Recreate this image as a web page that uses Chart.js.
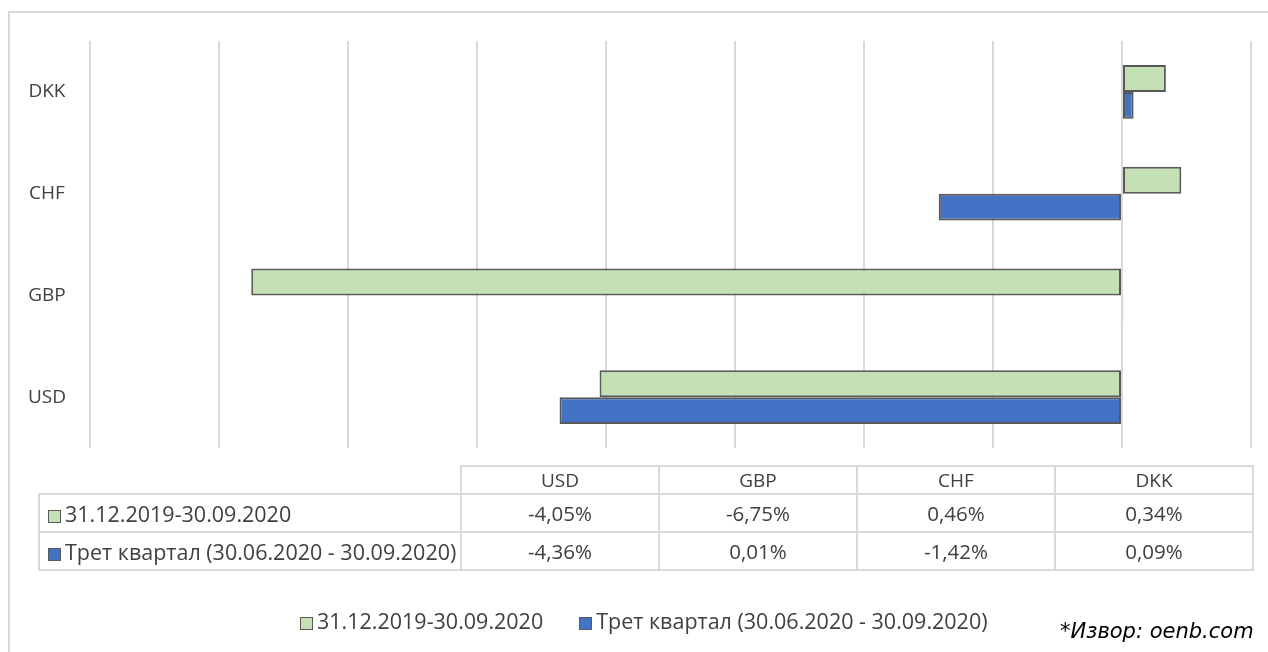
<!DOCTYPE html>
<html>
<head>
<meta charset="utf-8">
<script src="https://cdn.jsdelivr.net/npm/chart.js@4/dist/chart.umd.min.js"></script>
<style>
  body { margin: 0; background: #fff; font-family: "Open Sans", sans-serif; }
  #wrap { position: relative; width: 1268px; height: 652px; overflow: hidden; }
  #frame { position: absolute; left: 8px; top: 11px; width: 1300px; height: 700px; border: 2px solid #d9d9d9; box-sizing: border-box; }
  #chart { position: absolute; left: 0; top: 0; }
  #table { position: absolute; left: 38px; top: 465px; border-collapse: collapse; table-layout: fixed; color: #404040; font-size: 20.5px; }
  #table td { border: 2px solid #d9d9d9; text-align: center; padding: 0; white-space: nowrap; }
  #table tr.head td { height: 26px; font-size: 19px; }
  #table tr.row td { height: 36px; }
  #table td.name { text-align: left; padding-left: 8px; font-size: 21.5px; }
  #table td.empty { border-top: none; border-left: none; }
  .mark { display: inline-block; width: 11px; height: 11px; border: 1px solid #595959; margin-right: 4px; vertical-align: -1px; }
  #legend { position: absolute; left: 300px; top: 606px; color: #404040; font-size: 21.5px; white-space: nowrap; }
  #legend span.item { margin-right: 36px; }
  #source { position: absolute; left: 1060px; top: 619px; font-family: "DejaVu Sans", sans-serif; font-style: italic; font-size: 21px; color: #000; white-space: nowrap; }
</style>
</head>
<body>
<div id="wrap">
  <div id="frame"></div>
  <canvas id="chart" width="1268" height="652"></canvas>
  <table id="table"></table>
  <div id="legend"></div>
  <div id="source">*Извор: oenb.com</div>
</div>
<script>
const categories = ["USD", "GBP", "CHF", "DKK"];
const seriesNames = ["31.12.2019-30.09.2020", "Трет квартал (30.06.2020 - 30.09.2020)"];
const ytdValues = [-4.05, -6.75, 0.46, 0.34];
const q3Values = [-4.36, 0.01, -1.42, 0.09];
const seriesColors = ["#C5E0B4", "#4472C4"];

const allSeries = [ytdValues, q3Values];
const fmt = v => v.toFixed(2).replace(".", ",") + "%";

// data table under the plot
const table = document.getElementById("table");
let html = '<colgroup><col style="width:422px">' +
  categories.map(() => '<col style="width:198px">').join("") + "</colgroup>";
html += '<tr class="head"><td class="empty"></td>' + categories.map(c => "<td>" + c + "</td>").join("") + "</tr>";
allSeries.forEach((vals, i) => {
  html += '<tr class="row"><td class="name"><span class="mark" style="background:' + seriesColors[i] + '"></span>' +
    seriesNames[i] + "</td>" + vals.map(v => "<td>" + fmt(v) + "</td>").join("") + "</tr>";
});
table.innerHTML = html;

// legend
document.getElementById("legend").innerHTML = seriesNames.map((n, i) =>
  '<span class="item"><span class="mark" style="background:' + seriesColors[i] + '"></span>' + n + "</span>"
).join("");

new Chart(document.getElementById("chart"), {
  type: "bar",
  data: {
    labels: categories,
    datasets: allSeries.map((vals, i) => ({
      label: seriesNames[i],
      data: vals,
      backgroundColor: seriesColors[i],
      borderColor: "#595959",
      borderWidth: 2,
      borderSkipped: false,
      categoryPercentage: 0.53,
      barPercentage: 1.0,
    })),
  },
  options: {
    indexAxis: "y",
    responsive: false,
    animation: false,
    layout: { padding: { left: 0, right: 17, top: 41, bottom: 204 } },
    plugins: { legend: { display: false }, tooltip: { enabled: false } },
    scales: {
      x: {
        min: -8,
        max: 1,
        ticks: { stepSize: 1, display: false },
        grid: { color: "#d9d9d9", lineWidth: 2, drawTicks: false },
        border: { display: false },
      },
      y: {
        reverse: true,
        grid: { display: false, drawTicks: false },
        border: { display: false },
        ticks: {
          color: "#404040",
          font: { family: "Open Sans", size: 19 },
          crossAlign: "center",
          padding: 24,
        },
        afterFit: s => { s.width = 90; },
      },
    },
  },
});
</script>
</body>
</html>
